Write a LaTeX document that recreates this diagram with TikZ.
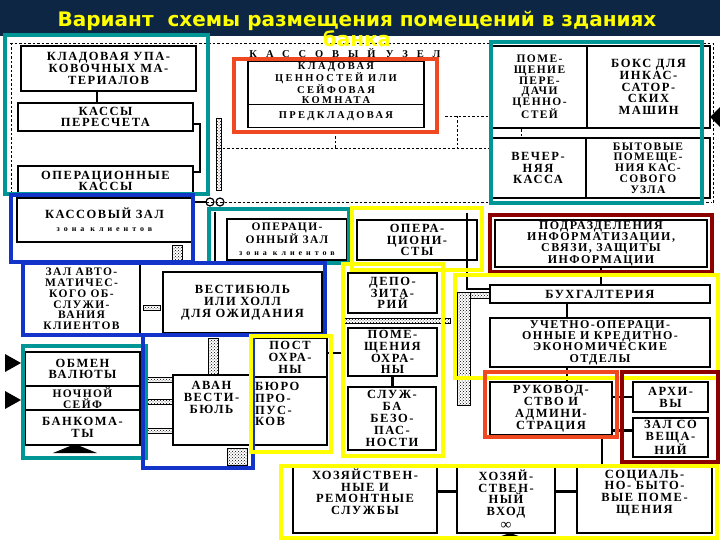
\documentclass[tikz,border=0pt]{standalone}
\usepackage{fontspec}
\setmainfont{Liberation Serif}
\newfontfamily\titlefont{DejaVu Sans}
\newfontfamily\scanfont[LetterSpace=12]{Liberation Serif}
\newfontfamily\densefont[LetterSpace=22]{Liberation Serif}
\newfontfamily\smallfont[LetterSpace=50]{Liberation Serif}
\newfontfamily\widefont[LetterSpace=85]{Liberation Serif}
\usetikzlibrary{positioning, patterns}

\definecolor{barnavy}{RGB}{12,38,68}
\definecolor{zteal}{RGB}{0,150,150}
\definecolor{zblue}{RGB}{18,52,200}
\definecolor{zyellow}{RGB}{255,255,0}
\definecolor{zred}{RGB}{240,72,32}
\definecolor{zdark}{RGB}{140,0,0}

\tikzset{
  room/.style={draw, line width=1.3pt, fill=white, align=center, inner sep=1pt, outer sep=0pt,
    font=\scanfont\bfseries\fontsize{12.5}{11.8}\selectfont},
  tight/.style={font=\scanfont\bfseries\fontsize{11.5}{10.8}\selectfont},
  dense/.style={font=\densefont\bfseries\fontsize{10.5}{9.8}\selectfont},
  wh/.style 2 args={minimum width=#1pt, minimum height=#2pt},
  txt/.style={inner sep=0pt, font=\scanfont\bfseries\fontsize{12.5}{11.8}\selectfont},
  zone/.style={draw=#1, line width=3.6pt},
  wire/.style={line width=2.2pt},
  plan/.style={dash pattern=on 2.5pt off 2pt, line width=0.9pt},
  wallbit/.style={pattern=crosshatch dots, draw, line width=0.5pt},
}
\newcommand{\zk}{\\[1pt]{\smallfont\fontsize{8}{9}\selectfont зона клиентов}}

\begin{document}
\begin{tikzpicture}[x=1pt, y=-1pt]
\useasboundingbox (0,0) rectangle (720,540);
\fill[white] (0,0) rectangle (720,540);
\fill[barnavy] (0,0) rectangle (720,36);

% ── Контур кассового узла ───────────────────────────────────
\draw[plan] (10,43) -- (712,43);
\draw[plan] (11,43) -- (11,192);
\draw[plan] (713,43) -- (713,205);
\draw[plan] (218,148) -- (492,148);
\draw[plan] (445,116) -- (712,116);
\draw[plan] (193,202) -- (712,202);
\draw[plan] (335,132) -- (335,148);
\draw[plan] (457,116) -- (457,148);
\draw[plan] (521,116) -- (521,150) -- (494,150);

\node[inner sep=0pt, font=\widefont\bfseries\fontsize{10.5}{12}\selectfont] (uzel) at (345,53.5) {КАССОВЫЙ\quad УЗЕЛ};

% ── Кассовый узел, левая часть ──────────────────────────────
\node[room, wh={175}{45}] (klupak) at (108.5,68.5) {КЛАДОВАЯ УПА-\\КОВОЧНЫХ МА-\\ТЕРИАЛОВ};
\node[room, wh={175}{28}] (peresch) at (105.5,117) {КАССЫ\\ПЕРЕСЧЕТА};
\node[room, wh={175}{30}] (opkassy) at (105.5,181) {ОПЕРАЦИОННЫЕ\\КАССЫ};

% ── Кассовый узел, центр ────────────────────────────────────
\node[room, dense, wh={176}{42}] (kladcen) at (336,83) {КЛАДОВАЯ\\ЦЕННОСТЕЙ ИЛИ\\СЕЙФОВАЯ\\КОМНАТА};
\node[room, dense, wh={176}{23}, below=0pt of kladcen] (predklad) {ПРЕДКЛАДОВАЯ};

% ── Кассовый узел, правая часть ─────────────────────────────
\node[room, tight, wh={95}{82}] (peredacha) at (539.5,87)
  {ПОМЕ-\\ЩЕНИЕ\\ПЕРЕ-\\ДАЧИ\\ЦЕННО-\\СТЕЙ};
\node[room, wh={123}{82}, right=0pt of peredacha] (boks) {БОКС ДЛЯ\\ИНКАС-\\САТОР-\\СКИХ\\МАШИН};
\node[room, wh={96}{60}] (vecher) at (538,168) {ВЕЧЕР-\\НЯЯ\\КАССА};
\node[room, tight, wh={124}{60}, right=0pt of vecher] (bytkas)
  {БЫТОВЫЕ\\ПОМЕЩЕ-\\НИЯ КАС-\\СОВОГО\\УЗЛА};

% ── Залы для клиентов ───────────────────────────────────────
\node[room, wh={175}{44}] (kaszal) at (104.5,220) {КАССОВЫЙ ЗАЛ\zk};
\node[room, tight, wh={120}{41}] (opzal) at (287,239.5) {ОПЕРАЦИ-\\ОННЫЙ ЗАЛ\zk};
\node[room, wh={120}{40}] (operac) at (417,240) {ОПЕРА-\\ЦИОНИ-\\СТЫ};
\node[room, wh={212}{47}, font=\scanfont\bfseries\fontsize{12}{11.3}\selectfont] (infor) at (601,243.5)
  {ПОДРАЗДЕЛЕНИЯ\\ИНФОРМАТИЗАЦИИ,\\СВЯЗИ, ЗАЩИТЫ\\ИНФОРМАЦИИ};
\node[room, tight, wh={117}{72}] (avtozal) at (81.5,299)
  {ЗАЛ АВТО-\\МАТИЧЕС-\\КОГО ОБ-\\СЛУЖИ-\\ВАНИЯ\\КЛИЕНТОВ};
\node[room, wh={159}{61}] (vest) at (242.5,302.5) {ВЕСТИБЮЛЬ\\ИЛИ ХОЛЛ\\ДЛЯ ОЖИДАНИЯ};

% ── Охрана и служба безопасности ────────────────────────────
\node[room, wh={89}{40}] (depo) at (392.5,293) {ДЕПО-\\ЗИТА-\\РИЙ};
\node[room, wh={89}{48}] (pomohr) at (392.5,352) {ПОМЕ-\\ЩЕНИЯ\\ОХРА-\\НЫ};
\node[room, wh={88}{63}] (sluzhba) at (392,418.5) {СЛУЖ-\\БА\\БЕЗО-\\ПАС-\\НОСТИ};

% ── Бухгалтерия и руководство ───────────────────────────────
\node[room, wh={220}{18}] (buh) at (600,294) {БУХГАЛТЕРИЯ};
\node[room, wh={220}{49}, font=\scanfont\bfseries\fontsize{12}{11.3}\selectfont] (uchet) at (600,342.5)
  {УЧЕТНО-ОПЕРАЦИ-\\ОННЫЕ И КРЕДИТНО-\\ЭКОНОМИЧЕСКИЕ\\ОТДЕЛЫ};
\node[room, wh={122}{53}] (rukovod) at (551,408.5) {РУКОВОД-\\СТВО И\\АДМИНИ-\\СТРАЦИЯ};
\node[room, wh={75}{30}] (arhiv) at (670.5,397) {АРХИ-\\ВЫ};
\node[room, wh={75}{39}] (zalsov) at (670.5,437.5) {ЗАЛ СО\\ВЕЩА-\\НИЙ};

% ── Вход для клиентов ───────────────────────────────────────
\node[room, wh={115}{34}] (obmen) at (82.5,369) {ОБМЕН\\ВАЛЮТЫ};
\node[room, tight, wh={115}{24}, below=0pt of obmen] (nochsejf) {НОЧНОЙ\\СЕЙФ};
\node[room, wh={115}{35}, below=0pt of nochsejf] (bankomat) {БАНКОМА-\\ТЫ};
\node[room, wh={77}{70}] (avanvest) at (211.5,410) {};
\node[txt, align=center, below=6pt of avanvest.north] (avantxt) {АВАН\\ВЕСТИ-\\БЮЛЬ};
\node[room, wh={74}{39}] (post) at (290,357.5) {ПОСТ\\ОХРА-\\НЫ};
\node[room, wh={74}{68}, below=0pt of post] (buro) {};
\node[txt, align=left, below right=5pt and 2pt of buro.north west] (burotxt) {БЮРО\\ПРО-\\ПУС-\\КОВ};

% ── Хозяйственный блок ──────────────────────────────────────
\node[room, wh={144}{67}] (hozsl) at (365,499.5) {ХОЗЯЙСТВЕН-\\НЫЕ И\\РЕМОНТНЫЕ\\СЛУЖБЫ\\[4pt]};
\node[room, wh={98}{67}] (hozvhod) at (506,499.5) {ХОЗЯЙ-\\СТВЕН-\\НЫЙ\\ВХОД\\[2pt]{\fontsize{15}{9}\selectfont ∞}};
\node[room, wh={135}{67}] (social) at (644.5,499.5) {СОЦИАЛЬ-\\НО- БЫТО-\\ВЫЕ ПОМЕ-\\ЩЕНИЯ\\[4pt]};

% ── Стены и проемы ──────────────────────────────────────────
\foreach \a/\b/\c/\d in {216/118/221/190, 457/292/470/405, 343/318/450/323, 470/292/490/298,
    143/377/173/382, 143/399/173/404, 143/428/173/433, 208/338/218/375, 227/448/247/465,
    143/305/160/310, 172/245/182/262} {
  \draw[wallbit] (\a,\b) rectangle (\c,\d);
}
\draw[line width=1.2pt] (210,202) circle (4pt) (220,202) circle (4pt);
\draw[wire] (193,202) -- (206,202);
\draw[wire] (215,212) -- (215,262);

% ── Связи ───────────────────────────────────────────────────
\draw[wire] ([xshift=-11.5pt]klupak.south) -- ([xshift=-11.5pt]klupak.south |- peresch.north);
\draw[wire] ([yshift=-7pt]peresch.east) -- ++(7,0) |- ([yshift=-6pt]opkassy.north east);
\coordinate (busop) at (467,213);
\draw[wire] (busop) -- (busop |- 0,289) -- ([yshift=5pt]buh.west);
\draw[wire] (operac.south east) -- (busop |- operac.south east);
\draw[wire] (infor.south) -- (infor.south |- buh.north);
\draw[wire] ([xshift=-33pt]buh.south) -- ([xshift=-33pt]uchet.north);
\draw[wire] ([xshift=-33pt]uchet.south) -- ([xshift=-33pt]uchet.south |- rukovod.north);
\draw[wire] (rukovod.east |- arhiv.west) -- (arhiv.west);
\draw[wire] (rukovod.east |- 0,430.5) -- ([yshift=7pt]zalsov.west);
\draw[wire] ([xshift=51pt]rukovod.south) -- ([xshift=51pt]rukovod.south |- social.north);
\draw[wire] ([yshift=8pt]hozsl.east) -- ([yshift=8pt]hozvhod.west);
\draw[wire] ([yshift=8pt]hozvhod.east) -- ([yshift=8pt]social.west);
\draw[wire] (pomohr.south) -- (pomohr.south |- sluzhba.north);
\coordinate (ohrwall) at (343,353);
\draw[wire] (post.east |- ohrwall) -- (ohrwall);

% ── Входы (стрелки) ─────────────────────────────────────────
\fill (710,117) -- (720,107) -- (720,127) -- cycle;
\fill (5,354) -- (21,363) -- (5,372) -- cycle;
\fill (5,391) -- (21,400) -- (5,409) -- cycle;
\fill (53,453) -- (75,444) -- (97,453) -- cycle;
\fill (487,541) -- (510,533) -- (533,541) -- cycle;

% ── Цветные зоны ────────────────────────────────────────────
\draw[zone=zteal] (5,35) rectangle (208,194);
\draw[zone=zteal] (491,42) rectangle (702,203);
\draw[zone=zred] (234,59) rectangle (437,132);
\draw[zone=zblue] (11,195) rectangle (193,262);
\draw[zone=zteal] (209,209) rectangle (349,263);
\draw[zone=zyellow] (352,208) rectangle (482,270);
\draw[zone=zdark] (490,215) rectangle (712,272);
\draw[zone=zblue] (23,263) rectangle (325,335);
\draw[zone=zyellow] (343,264) rectangle (443,456);
\draw[zone=zyellow] (455,275) rectangle (718,378);
\draw[zone=zteal] (23,346) rectangle (146,458);
\draw[zone=zblue] (143,335) rectangle (253,468);
\draw[zone=zyellow] (251,336) rectangle (331,452);
\draw[zone=zred] (485,372) rectangle (617,437);
\draw[zone=zdark] (622,372) rectangle (718,462);
\draw[zone=zyellow] (281,466) rectangle (717,538);

% ── Заголовок ───────────────────────────────────────────────
\node[anchor=base, inner sep=0pt, text=zyellow, font=\titlefont\bfseries\fontsize{20}{21}\selectfont]
  (title) at (357,27) {Вариант\ \ схемы размещения помещений в зданиях};
\node[anchor=base, inner sep=0pt, text=zyellow, font=\titlefont\bfseries\fontsize{20}{21}\selectfont]
  (titlebank) at (357,47) {банка};

\end{tikzpicture}
\end{document}
